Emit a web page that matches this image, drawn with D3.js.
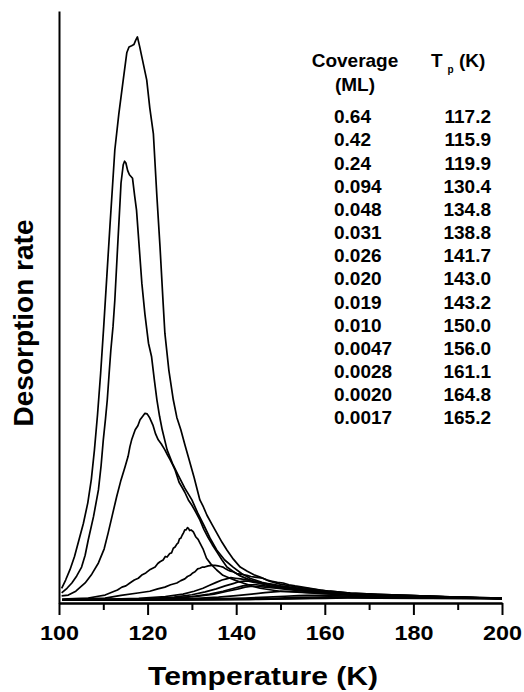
<!DOCTYPE html>
<html>
<head>
<meta charset="utf-8">
<script src="https://cdn.jsdelivr.net/npm/d3@7"></script>
<style>
  html, body { margin: 0; padding: 0; background: #fff; }
  svg { display: block; font-family: "Liberation Sans", Arial, sans-serif; font-weight: bold; }
</style>
</head>
<body>
<div id="chart"></div>
<script>
// ======================
// 1. DATA
// ======================
const coverageLabels = ["0.64", "0.42", "0.24", "0.094", "0.048", "0.031", "0.026",
  "0.020", "0.019", "0.010", "0.0047", "0.0028", "0.0020", "0.0017"];
const peakTempLabels = ["117.2", "115.9", "119.9", "130.4", "134.8", "138.8", "141.7",
  "143.0", "143.2", "150.0", "156.0", "161.1", "164.8", "165.2"];
const majorTicks = [100, 120, 140, 160, 180, 200];
const minorTicks = [110, 130, 150, 170, 190];

// [temperature K, desorption rate (arb.)]
const cov064 = [[100.6,2.0],[101.5,3.4],[102.5,5.2],[103.5,7.4],[104.5,10.2],[105.5,13.0],[106.5,16.5],
  [107.3,20.5],[108.0,25.5],[108.7,31.5],[109.4,38.5],[110.1,46.5],[110.8,55.0],[111.5,63.5],[112.1,70.5],
  [112.6,76.4],[113.5,82.5],[114.5,88.3],[115.3,92.9],[115.8,93.9],[116.4,94.1],[116.9,94.3],[117.3,95.0],
  [117.7,95.6],[118.2,94.0],[118.7,92.2],[119.8,88.3],[120.5,83.5],[121.3,79.2],[122.1,68.5],[122.8,60.0],
  [123.5,50.5],[123.9,45.3],[124.8,39.0],[125.8,34.0],[126.6,31.0],[127.5,28.9],[128.4,26.4],[129.2,24.3],
  [130.5,20.8],[131.8,17.0],[132.6,15.8],[133.4,14.4],[134.5,12.9],[135.6,11.4],[136.8,9.8],[137.9,8.5],
  [139.4,6.9],[140.9,5.6],[142.5,4.9],[144.0,4.3],[145.4,3.9],[147.5,3.2],[149.9,2.7],[153.0,2.3],
  [156.7,1.9],[161.0,1.5],[165.7,1.2],[172.0,0.95],[181.5,0.7],[190.0,0.5],[200,0.34]];
const cov042 = [[100.6,1.2],[101.8,2.0],[102.9,2.9],[104.0,4.1],[105.1,5.6],[105.9,7.6],[106.6,10.2],
  [107.8,14.2],[108.9,18.7],[109.5,22.8],[110.0,27.2],[110.5,30.8],[110.9,34.0],[111.3,38.3],[111.7,42.4],
  [112.2,46.5],[112.6,50.9],[113.2,59.5],[113.8,67.9],[114.0,70.8],[114.5,73.9],[114.8,74.5],[115.1,74.2],
  [115.5,72.9],[115.9,72.2],[116.6,71.6],[117.1,68.5],[117.5,66.2],[118.1,60.0],[118.7,53.8],[119.4,48.5],
  [120.2,43.6],[120.9,41.3],[121.5,37.5],[122.1,34.0],[122.7,31.2],[123.3,28.9],[124.4,25.5],[125.6,23.2],
  [126.9,21.2],[128.4,19.0],[130.0,17.0],[131.3,14.8],[132.7,12.7],[134.1,10.5],[135.6,8.5],[137.4,6.8],
  [139.3,5.6],[141.2,4.5],[143.1,3.7],[145.8,3.0],[148.8,2.4],[151.5,2.0],[154.4,1.7],[160.0,1.3],
  [165.7,1.0],[173.0,0.85],[181.5,0.7],[190.0,0.45],[200,0.3]];
const cov024 = [[100.6,0.7],[102.1,0.85],[103.8,1.5],[105.9,2.9],[107.4,4.4],[108.9,6.3],[110.2,8.7],
  [111.1,11.4],[112.0,14.3],[113.0,17.5],[114.0,20.4],[114.9,22.6],[115.6,24.4],[116.0,26.0],[116.4,27.2],
  [117.2,28.9],[117.8,29.6],[118.3,30.6],[118.9,31.2],[119.4,31.7],[119.9,31.6],[120.5,30.9],[121.2,29.7],
  [121.8,28.2],[122.4,27.2],[123.1,26.5],[123.9,25.5],[124.5,24.6],[125.1,23.8],[125.7,22.9],[126.2,22.1],
  [127.1,20.0],[127.8,19.1],[128.4,18.3],[129.2,17.0],[130.0,16.1],[130.9,14.9],[131.8,13.6],[132.7,12.0],
  [133.6,10.7],[134.6,9.4],[135.7,8.1],[136.8,6.8],[137.9,5.6],[139.4,4.8],[140.9,4.1],[142.5,3.6],
  [144.2,3.1],[146.5,2.6],[148.8,2.2],[151.5,1.9],[154.4,1.7],[160.0,1.3],[165.7,1.0],[173.0,0.85],
  [181.5,0.7],[190.0,0.5],[200,0.34]];
const cov0094 = [[100.7,0.17],[103.5,0.25],[106.6,0.34],[108.5,0.6],[110.4,0.85],[112.2,1.4],[113.2,1.7],
  [114.2,2.2],[115.1,2.4],[116.0,2.9],[117.0,3.4],[117.9,3.7],[118.8,4.3],[119.6,4.6],[120.6,5.2],
  [121.7,5.6],[122.3,6.2],[122.8,6.5],[123.5,6.8],[124.0,7.4],[124.4,7.3],[125.0,7.9],[125.4,8.0],
  [125.8,8.8],[126.2,9.0],[126.6,9.5],[126.9,9.7],[127.2,10.4],[127.5,10.5],[127.8,11.0],[128.1,11.4],
  [128.4,11.9],[128.7,11.9],[129.0,12.3],[129.2,12.2],[129.5,11.8],[129.8,11.9],[130.3,11.6],[130.9,10.7],
  [131.4,10.3],[131.8,9.7],[132.5,8.7],[133.3,7.1],[134.3,6.1],[135.6,5.1],[137.0,4.2],[138.6,3.7],
  [140.0,3.3],[141.5,2.9],[143.5,2.4],[145.4,2.0],[149.9,1.5],[156.7,1.2],[165.7,0.85],[181.5,0.5],
  [190.0,0.4],[200,0.25]];
const cov0048 = [[100.7,0.08],[105,0.2],[110.4,0.34],[114,0.8],[117.8,1.2],[120.5,1.5],[122.3,1.9],
  [123.9,2.2],[125.2,2.6],[126.6,2.9],[127.5,3.3],[128.4,3.6],[129.0,4.0],[129.6,4.2],[130.2,4.6],
  [130.7,4.8],[131.3,5.3],[131.8,5.4],[132.4,5.6],[132.9,5.6],[133.7,5.8],[134.5,5.9],[135.2,5.9],
  [135.9,5.8],[136.5,5.7],[137.0,5.6],[137.6,5.3],[138.1,5.1],[138.7,4.9],[139.3,4.8],[140.1,4.5],
  [140.9,4.4],[141.7,4.3],[142.4,4.2],[143.3,4.0],[144.2,3.9],[145.1,3.8],[146.0,3.7],[147.0,3.4],
  [148.1,3.2],[149.3,3.0],[150.6,2.9],[151.9,2.6],[153.3,2.4],[155.0,2.2],[156.7,2.0],[159.0,1.7],
  [161.2,1.5],[165.7,1.2],[172.0,0.95],[181.5,0.7],[190.0,0.45],[200,0.25]];
const cov0031 = [[100.7,0.05],[110,0.1],[118,0.3],[124,0.6],[128,1.0],[130.5,1.5],[132.5,2.0],[134,2.5],
  [135.5,3.0],[136.8,3.4],[137.8,3.6],[138.8,3.8],[139.8,3.7],[141,3.6],[142.5,3.4],[144,3.2],[146,2.9],
  [148,2.7],[150,2.4],[153,2.1],[157,1.7],[161,1.4],[166,1.1],[173,0.85],[181.5,0.6],[190,0.45],[200,0.3]];
const cov0026 = [[100.7,0.04],[112,0.1],[120,0.25],[126,0.5],[130,0.9],[133,1.4],[135.5,1.9],[137.5,2.4],
  [139.3,2.8],[140.6,3.1],[141.7,3.2],[142.8,3.2],[144,3.0],[146,2.8],[148,2.6],[151,2.2],[155,1.8],
  [160,1.4],[166,1.05],[173,0.8],[181.5,0.6],[190,0.45],[200,0.3]];
const cov0020 = [[100.7,0.03],[115,0.1],[124,0.3],[130,0.6],[134,1.0],[137,1.5],[139.5,2.0],[141.5,2.4],
  [143,2.6],[144.5,2.6],[146.5,2.4],[149,2.2],[152,1.9],[156,1.6],[161,1.25],[167,0.95],[175,0.7],
  [185,0.5],[200,0.3]];
const cov0019 = [[100.7,0.03],[117,0.1],[126,0.3],[131,0.6],[135,1.0],[138,1.5],[140.5,1.9],[142,2.2],
  [143.2,2.3],[144.6,2.3],[146.5,2.2],[149,2.0],[152,1.75],[156,1.45],[161,1.15],[167,0.9],[175,0.65],
  [185,0.45],[200,0.3]];
const cov0010 = [[100.7,0.02],[120,0.08],[130,0.25],[136,0.5],[140,0.75],[143.5,1.0],[146.5,1.25],
  [148.5,1.4],[150,1.45],[152,1.45],[155,1.35],[158,1.2],[162,1.0],[167,0.85],[174,0.65],[183,0.5],
  [192,0.4],[200,0.3]];
const cov00047 = [[100.7,0.02],[125,0.08],[135,0.2],[142,0.35],[147,0.5],[151,0.65],[154,0.75],[156,0.8],
  [159,0.8],[163,0.72],[168,0.62],[175,0.5],[185,0.4],[200,0.3]];
const cov00028 = [[100.7,0.01],[130,0.06],[140,0.15],[148,0.3],[154,0.45],[158,0.52],[161.1,0.55],
  [165,0.52],[171,0.45],[180,0.38],[190,0.32],[200,0.28]];
const cov00020 = [[100.7,0.01],[132,0.05],[143,0.12],[152,0.25],[159,0.36],[164.8,0.42],[170,0.4],
  [178,0.35],[190,0.3],[200,0.25]];
const cov00017 = [[100.7,0.01],[135,0.05],[145,0.1],[154,0.22],[160,0.3],[165.2,0.36],[172,0.34],
  [182,0.3],[192,0.26],[200,0.24]];

const curves = [cov064, cov042, cov024, cov0094, cov0048, cov0031, cov0026,
  cov0020, cov0019, cov0010, cov00047, cov00028, cov00020, cov00017];

// ======================
// 2. LAYOUT
// ======================
const W = 524, H = 692;
const plot = { left: 59, right: 502, top: 11, bottom: 603 };

const svg = d3.select("#chart")
  .append("svg")
  .attr("width", W)
  .attr("height", H);

const x = d3.scaleLinear().domain([100, 200]).range([plot.left, plot.right]);
const y = d3.scaleLinear().domain([-0.5, 100]).range([plot.bottom, plot.top]);

// ======================
// 3. CURVES
// ======================
const line = d3.line()
  .x(d => x(d[0]))
  .y(d => y(d[1]));

svg.append("g")
  .selectAll("path")
  .data(curves)
  .enter()
  .append("path")
  .attr("d", line)
  .attr("fill", "none")
  .attr("stroke", "#000")
  .attr("stroke-width", 1.7)
  .attr("stroke-linejoin", "round");

// ======================
// 4. AXES
// ======================
const xMinor = svg.append("g")
  .attr("transform", `translate(0,${plot.bottom})`)
  .call(d3.axisBottom(x).tickValues(minorTicks).tickSize(7).tickSizeOuter(0).tickFormat(""));

const xMajor = svg.append("g")
  .attr("transform", `translate(0,${plot.bottom})`)
  .call(d3.axisBottom(x).tickValues(majorTicks).tickSize(12).tickSizeOuter(0).tickPadding(10));

xMajor.selectAll("text")
  .attr("fill", "#000")
  .style("font-size", "21px")
  .style("font-weight", "bold")
  .attr("textLength", 39)
  .attr("lengthAdjust", "spacingAndGlyphs");

const yAxis = svg.append("g")
  .attr("transform", `translate(${plot.left},0)`)
  .call(d3.axisLeft(y).tickValues([]).tickSizeOuter(0));

svg.selectAll(".domain, .tick line")
  .attr("stroke", "#000")
  .attr("stroke-width", 2);

// axis titles
svg.append("text")
  .attr("x", 263)
  .attr("y", 685)
  .attr("text-anchor", "middle")
  .attr("textLength", 230)
  .attr("lengthAdjust", "spacingAndGlyphs")
  .style("font-size", "25px")
  .text("Temperature (K)");

svg.append("text")
  .attr("transform", "translate(33,323) rotate(-90)")
  .attr("text-anchor", "middle")
  .style("font-size", "28px")
  .text("Desorption rate");

// ======================
// 5. TABLE
// ======================
const table = svg.append("g").style("font-size", "19px");

table.append("text").attr("x", 355).attr("y", 67).attr("text-anchor", "middle").text("Coverage");
table.append("text").attr("x", 355).attr("y", 91).attr("text-anchor", "middle").text("(ML)");

const tpHead = table.append("text").attr("x", 431).attr("y", 67);
tpHead.append("tspan").text("T");
tpHead.append("tspan").attr("dx", 5).attr("dy", 6).style("font-size", "10px").text("p");
tpHead.append("tspan").attr("dy", -6).text(" (K)");

const rowY = i => 123.3 + i * 23.15;

table.selectAll(".cov")
  .data(coverageLabels)
  .enter()
  .append("text")
  .attr("class", "cov")
  .attr("x", 334)
  .attr("y", (d, i) => rowY(i))
  .text(d => d);

table.selectAll(".tp")
  .data(peakTempLabels)
  .enter()
  .append("text")
  .attr("class", "tp")
  .attr("x", 491)
  .attr("y", (d, i) => rowY(i))
  .attr("text-anchor", "end")
  .text(d => d);
</script>
</body>
</html>
